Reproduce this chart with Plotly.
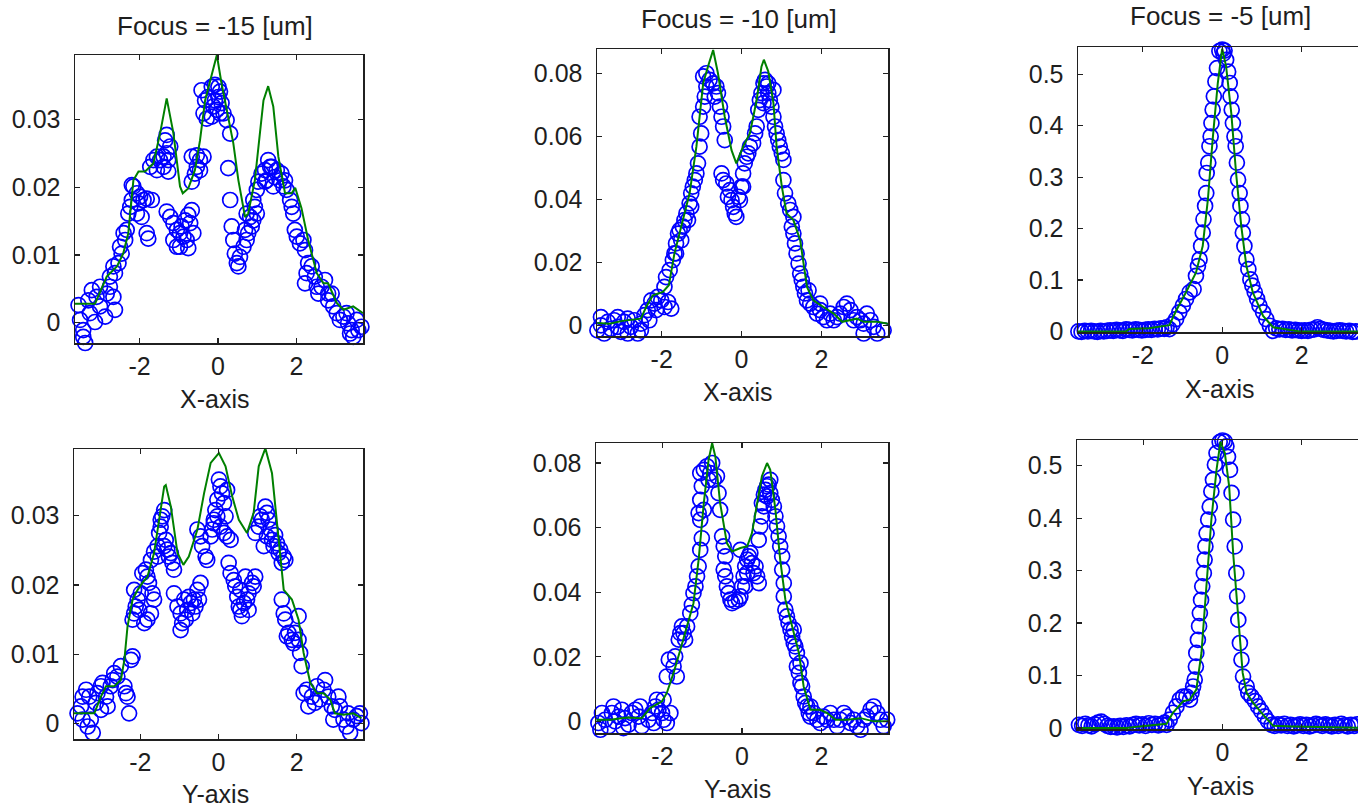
import plotly.graph_objects as go

# ---------------- data ----------------
titles = ["Focus = -15 [um]", "Focus = -10 [um]", "Focus = -5 [um]"]
axis_names = ["X-axis", "Y-axis"]

# Panel 1 : focus -15, X profile
p1_line = [(-3.65,0.0028),(-3.14,0.0028),(-2.84,0.0068),(-2.58,0.0083),(-2.42,0.0102),(-2.29,0.0132),
           (-2.16,0.0210),(-2.03,0.0223),(-1.86,0.0223),(-1.65,0.0235),(-1.48,0.0279),(-1.31,0.0331),
           (-1.14,0.0280),(-0.97,0.0201),(-0.90,0.0191),(-0.76,0.0198),(-0.59,0.0225),(-0.46,0.0269),
           (-0.33,0.0328),(-0.20,0.0358),(-0.03,0.0395),(0.09,0.0353),(0.22,0.0314),(0.39,0.0265),
           (0.52,0.0210),(0.69,0.0156),(0.77,0.0161),(0.94,0.0210),(1.07,0.0280),(1.16,0.0328),
           (1.28,0.0349),(1.41,0.0319),(1.54,0.0245),(1.71,0.0191),(1.88,0.0191),(1.97,0.0199),
           (2.13,0.0169),(2.30,0.0122),(2.52,0.0073),(2.69,0.0058),(2.81,0.0058),(3.03,0.0029),
           (3.20,0.0019),(3.45,0.0024),(3.70,0.0014)]
p1_pts = [(-3.69,0.0014),(-3.52,0.0004),(-3.44,-0.0011),(-3.39,-0.0030),(-3.56,0.0026),(-3.31,0.0033),
          (-3.22,0.0048),(-3.10,0.0038),(-3.01,0.0024),(-2.88,0.0009),(-2.84,0.0043),(-2.76,0.0053),
          (-2.67,0.0038),(-2.63,0.0019),(-3.01,0.0053),(-3.27,0.0014),(-3.14,0.0001),(-3.44,-0.0021),
          (-2.76,0.0068),(-2.63,0.0073),(-2.67,0.0083),(-2.54,0.0088),(-2.46,0.0102),(-2.50,0.0112),
          (-2.37,0.0122),(-2.41,0.0132),(-2.33,0.0137),(-2.29,0.0161),(-2.24,0.0171),(-2.20,0.0181),
          (-2.16,0.0201),(-2.20,0.0203),(-2.07,0.0191),(-1.99,0.0186),(-2.03,0.0176),(-1.90,0.0181),
          (-1.82,0.0183),(-2.07,0.0161),(-1.95,0.0156),(-1.82,0.0132),(-1.78,0.0124),(-1.69,0.0181),
          (-1.73,0.0230),(-1.65,0.0240),(-1.56,0.0245),(-1.48,0.0240),(-1.39,0.0245),(-1.31,0.0250),
          (-1.27,0.0240),(-1.22,0.0260),(-1.35,0.0269),(-1.31,0.0277),(-1.39,0.0230),(-1.56,0.0225),
          (-1.27,0.0223),
          (-1.31,0.0164),(-1.22,0.0156),(-1.14,0.0147),(-1.05,0.0137),(-0.97,0.0132),(-0.88,0.0127),
          (-1.05,0.0112),(-0.97,0.0112),(-0.80,0.0122),(-0.93,0.0142),(-0.84,0.0151),(-0.76,0.0159),
          (-0.67,0.0166),(-0.71,0.0147),(-0.63,0.0132),(-0.76,0.0110),(-1.14,0.0122),
          (-0.67,0.0245),(-0.54,0.0247),(-0.46,0.0240),(-0.37,0.0245),(-0.59,0.0220),(-0.67,0.0208),
          (-0.46,0.0225),(-0.54,0.0230),
          (-0.42,0.0343),(-0.33,0.0328),(-0.25,0.0333),(-0.16,0.0348),(-0.08,0.0351),(0.01,0.0348),
          (0.05,0.0341),(-0.12,0.0319),(-0.29,0.0301),(-0.16,0.0304),(-0.03,0.0314),(0.09,0.0324),
          (0.14,0.0309),(0.22,0.0299),(0.31,0.0279),(0.01,0.0333),(-0.08,0.0328),(-0.37,0.0309),
          (0.05,0.0309),
          (0.26,0.0228),(0.31,0.0181),(0.35,0.0142),(0.39,0.0122),(0.43,0.0102),(0.48,0.0088),
          (0.52,0.0083),(0.56,0.0097),(0.65,0.0112),(0.73,0.0122),(0.69,0.0137),(0.77,0.0132),
          (0.86,0.0142),(0.90,0.0151),(0.99,0.0161),(0.94,0.0171),(0.73,0.0161),(0.82,0.0156),
          (0.90,0.0181),(0.99,0.0196),(1.03,0.0208),(1.11,0.0220),(1.20,0.0225),(1.28,0.0240),
          (1.37,0.0230),(1.45,0.0215),(1.50,0.0225),(1.58,0.0210),(1.67,0.0201),(1.41,0.0201),
          (1.24,0.0210),(1.33,0.0230),(1.20,0.0208),(1.62,0.0220),(1.71,0.0210),(1.75,0.0196),
          (1.84,0.0181),(1.88,0.0171),
          (1.92,0.0161),(1.96,0.0137),(2.01,0.0127),(2.09,0.0117),(2.18,0.0122),(2.22,0.0107),
          (2.30,0.0088),(2.26,0.0073),(2.22,0.0058),(2.39,0.0083),(2.47,0.0068),(2.52,0.0053),
          (2.56,0.0043),(2.64,0.0053),(2.73,0.0063),(2.81,0.0043),(2.90,0.0043),(2.81,0.0033),
          (2.94,0.0024),(3.03,0.0014),(3.11,0.0004),(3.20,0.0009),(3.32,-0.0001),(3.41,-0.0011),
          (3.45,-0.0021),(3.58,-0.0011),(3.66,-0.0006),(3.75,-0.0001),(3.54,0.0004),(3.28,0.0014),
          (3.37,-0.0016)]

# Panel 4 : focus -15, Y profile
p4_line = [(-3.71,0.0015),(-3.18,0.0015),(-3.01,0.0039),(-2.88,0.0054),(-2.67,0.0054),(-2.50,0.0063),
           (-2.41,0.0092),(-2.33,0.0140),(-2.20,0.0179),(-2.07,0.0193),(-1.95,0.0203),(-1.82,0.0212),
           (-1.65,0.0246),(-1.52,0.0294),(-1.39,0.0342),(-1.35,0.0344),(-1.22,0.0313),(-1.05,0.0246),
           (-0.90,0.0229),(-0.76,0.0241),(-0.54,0.0280),(-0.37,0.0332),(-0.20,0.0376),(0.01,0.0390),
           (0.18,0.0371),(0.35,0.0328),(0.52,0.0294),(0.73,0.0275),(0.90,0.0304),(1.03,0.0371),
           (1.20,0.0397),(1.37,0.0361),(1.50,0.0284),(1.67,0.0193),(1.88,0.0179),(2.05,0.0150),
           (2.18,0.0102),(2.35,0.0059),(2.52,0.0044),(2.69,0.0044),(2.86,0.0035),(2.98,0.0015),
           (3.20,0.0013),(3.45,0.0015),(3.66,0.0008)]
p4_pts = [(-3.73,0.0001),(-3.61,0.0015),(-3.52,0.0025),(-3.48,0.0039),(-3.39,0.0049),(-3.31,0.0039),
          (-3.27,0.0006),(-3.22,-0.0013),(-3.35,-0.0004),(-3.14,0.0030),(-3.10,0.0044),(-3.01,0.0054),
          (-2.97,0.0059),(-2.88,0.0039),(-2.84,0.0025),(-2.76,0.0054),(-2.71,0.0063),(-2.67,0.0073),
          (-2.59,0.0068),(-2.50,0.0083),(-2.41,0.0054),(-2.33,0.0039),(-2.29,0.0015),(-2.37,0.0044),
          (-2.24,0.0092),(-2.20,0.0097),(-3.01,0.0020),(-3.48,0.0006),
          (-2.20,0.0150),(-2.16,0.0159),(-2.12,0.0169),(-2.07,0.0179),(-1.99,0.0188),(-1.95,0.0217),
          (-1.86,0.0222),(-1.82,0.0212),(-1.78,0.0203),(-1.69,0.0188),(-1.65,0.0179),(-1.73,0.0159),
          (-1.82,0.0150),(-1.90,0.0145),(-2.16,0.0193),(-2.03,0.0164),
          (-1.73,0.0236),(-1.65,0.0248),(-1.56,0.0256),(-1.52,0.0275),(-1.48,0.0284),(-1.44,0.0299),
          (-1.39,0.0308),(-1.48,0.0294),(-1.35,0.0265),(-1.31,0.0251),(-1.27,0.0241),(-1.18,0.0232),
          (-1.14,0.0222),(-1.22,0.0246),(-1.56,0.0241),(-1.39,0.0256),
          (-1.14,0.0188),(-1.05,0.0169),(-0.97,0.0159),(-0.93,0.0145),(-0.84,0.0150),(-0.80,0.0164),
          (-0.71,0.0174),(-0.63,0.0179),(-0.54,0.0193),(-0.46,0.0203),(-0.59,0.0169),(-0.67,0.0159),
          (-0.88,0.0179),(-0.76,0.0183),(-0.97,0.0135),(-0.50,0.0179),
          (-0.54,0.0280),(-0.46,0.0270),(-0.42,0.0256),(-0.33,0.0241),(-0.29,0.0236),(-0.20,0.0270),
          (-0.12,0.0289),(-0.08,0.0308),(-0.03,0.0323),(0.01,0.0352),(0.05,0.0342),(0.09,0.0332),
          (0.14,0.0318),(0.22,0.0337),(-0.03,0.0299),(0.05,0.0284),(0.14,0.0275),(0.22,0.0270),
          (0.31,0.0265),(0.18,0.0299),(-0.16,0.0280),(-0.12,0.0294),
          (0.26,0.0232),(0.31,0.0217),(0.39,0.0207),(0.43,0.0198),(0.48,0.0183),(0.52,0.0169),
          (0.56,0.0164),(0.65,0.0174),(0.73,0.0179),(0.77,0.0188),(0.86,0.0203),(0.94,0.0212),
          (0.90,0.0198),(0.69,0.0212),(0.56,0.0193),(0.77,0.0164),(0.60,0.0155),
          (0.94,0.0275),(1.03,0.0284),(1.11,0.0294),(1.20,0.0313),(1.24,0.0304),(1.33,0.0280),
          (1.37,0.0265),(1.41,0.0256),(1.50,0.0260),(1.58,0.0251),(1.67,0.0241),(1.71,0.0236),
          (1.62,0.0232),(1.54,0.0246),(1.24,0.0270),(1.16,0.0256),(1.07,0.0299),(1.45,0.0272),
          (1.28,0.0294),
          (1.62,0.0179),(1.71,0.0150),(1.79,0.0131),(1.88,0.0121),(1.96,0.0131),(2.05,0.0121),
          (1.92,0.0116),(1.75,0.0126),(2.09,0.0102),(2.13,0.0083),(2.05,0.0155),(1.67,0.0159),
          (2.18,0.0044),(2.26,0.0049),(2.39,0.0039),(2.47,0.0030),(2.60,0.0035),(2.69,0.0049),
          (2.73,0.0063),(2.81,0.0039),(2.90,0.0025),(2.98,0.0020),(3.07,0.0039),(3.11,0.0025),
          (3.20,0.0006),(3.28,-0.0004),(3.37,-0.0013),(3.45,0.0006),(3.54,0.0011),(3.62,0.0015),
          (3.71,0.0025),(3.66,0.0001),(3.32,0.0015),(2.52,0.0054),(2.30,0.0025),(2.94,0.0006)]

# Panel 2 : focus -10, X profile
p2_line = [(-3.61,0.0007),(-3.31,0.0005),(-2.98,0.0014),(-2.64,0.0018),(-2.52,0.0021),(-2.39,0.0058),
           (-2.22,0.0095),(-1.97,0.0106),(-1.82,0.0127),(-1.68,0.0228),(-1.51,0.0313),(-1.30,0.0419),
           (-1.13,0.0567),(-0.96,0.0768),(-0.84,0.0821),(-0.71,0.0874),(-0.59,0.0800),(-0.42,0.0662),
           (-0.25,0.0556),(-0.13,0.0514),(0.04,0.0567),(0.21,0.0609),(0.38,0.0715),(0.50,0.0821),
           (0.56,0.0843),(0.67,0.0806),(0.80,0.0705),(0.88,0.0567),(1.01,0.0440),(1.13,0.0355),
           (1.30,0.0334),(1.47,0.0270),(1.64,0.0122),(1.80,0.0079),(2.05,0.0058),(2.31,0.0037),
           (2.52,0.0011),(2.73,0.0016),(2.89,0.0021),(3.06,0.0011),(3.40,0.0011),(3.67,0.0005)]
p2_pts = [(-3.69,0.0016),(-3.61,-0.0016),(-3.52,0.0000),(-3.44,-0.0026),(-3.35,0.0011),(-3.27,-0.0011),
          (-3.19,0.0016),(-3.10,-0.0005),(-3.02,-0.0021),(-2.94,0.0011),(-2.85,0.0021),(-2.77,-0.0005),
          (-2.68,0.0016),(-2.60,-0.0026),(-2.52,0.0005),(-2.43,0.0032),(-2.35,0.0048),(-2.26,0.0079),
          (-2.18,0.0069),(-2.10,0.0090),(-2.01,0.0079),(-1.93,0.0058),(-1.84,0.0074),(-1.76,0.0053),
          (-3.52,0.0026),(-3.10,0.0026),(-2.85,-0.0026),(-2.52,-0.0016),(-2.14,0.0048),(-2.31,0.0016),
          (-1.93,0.0122),(-1.89,0.0153),(-1.80,0.0175),(-1.72,0.0207),(-1.68,0.0228),(-1.64,0.0260),
          (-1.59,0.0291),(-1.55,0.0302),(-1.47,0.0313),(-1.43,0.0334),(-1.38,0.0355),(-1.30,0.0387),
          (-1.26,0.0419),(-1.22,0.0440),(-1.17,0.0461),(-1.13,0.0482),(-1.09,0.0514),(-1.05,0.0567),
          (-1.01,0.0609),(-1.05,0.0662),(-0.96,0.0694),(-0.92,0.0726),(-0.88,0.0758),(-0.96,0.0790),
          (-0.88,0.0800),(-0.80,0.0779),(-0.71,0.0768),(-0.63,0.0758),(-0.59,0.0737),(-0.67,0.0726),
          (-0.54,0.0694),(-0.50,0.0662),(-0.46,0.0631),(-0.42,0.0588),(-1.64,0.0228),(-1.51,0.0270),
          (-1.34,0.0334),(-1.26,0.0376),
          (-0.50,0.0482),(-0.46,0.0461),(-0.38,0.0450),(-0.29,0.0429),(-0.25,0.0397),(-0.21,0.0376),
          (-0.17,0.0355),(-0.13,0.0344),(-0.34,0.0408),(-0.04,0.0397),(0.00,0.0440),(0.04,0.0482),
          (0.08,0.0514),(0.13,0.0535),(0.17,0.0546),(0.21,0.0567),(0.29,0.0578),(0.34,0.0609),
          (0.38,0.0631),(0.04,0.0440),(-0.08,0.0408),
          (0.42,0.0684),(0.46,0.0715),(0.50,0.0737),(0.55,0.0768),(0.59,0.0779),(0.63,0.0758),
          (0.67,0.0737),(0.71,0.0715),(0.75,0.0694),(0.80,0.0662),(0.84,0.0631),(0.88,0.0609),
          (0.92,0.0588),(0.96,0.0567),(1.01,0.0546),(1.05,0.0525),(0.55,0.0705),(0.67,0.0768),
          (0.80,0.0747),
          (1.05,0.0461),(1.09,0.0419),(1.17,0.0387),(1.22,0.0366),(1.26,0.0313),(1.30,0.0291),
          (1.34,0.0260),(1.38,0.0228),(1.43,0.0196),(1.47,0.0164),(1.51,0.0143),(1.55,0.0122),
          (1.59,0.0101),(1.64,0.0079),(1.72,0.0069),(1.80,0.0058),(1.89,0.0037),(1.97,0.0048),
          (2.05,0.0026),(2.14,0.0016),(2.22,0.0037),(2.31,0.0016),(2.39,0.0026),(2.47,0.0037),
          (2.56,0.0058),(2.64,0.0069),(2.73,0.0048),(2.81,0.0016),(2.89,0.0026),(2.98,0.0016),
          (3.06,0.0005),(3.14,0.0037),(3.23,0.0016),(3.31,-0.0005),(3.40,-0.0026),(3.48,-0.0037),
          (3.56,-0.0016),(3.73,-0.0016),(1.30,0.0344),(1.68,0.0111),(1.97,0.0069),(3.06,-0.0026)]

# Panel 5 : focus -10, Y profile
p5_line = [(-3.66,0.0005),(-3.31,0.0005),(-2.89,0.0012),(-2.52,0.0010),(-2.31,0.0041),(-2.01,0.0062),
           (-1.89,0.0088),(-1.72,0.0150),(-1.55,0.0222),(-1.38,0.0294),(-1.22,0.0366),(-1.09,0.0501),
           (-0.96,0.0676),(-0.84,0.0810),(-0.75,0.0862),(-0.67,0.0820),(-0.55,0.0676),(-0.38,0.0552),
           (-0.25,0.0526),(-0.04,0.0537),(0.13,0.0542),(0.25,0.0583),(0.38,0.0676),(0.50,0.0759),
           (0.63,0.0800),(0.71,0.0779),(0.84,0.0655),(0.96,0.0501),(1.09,0.0377),(1.26,0.0294),
           (1.43,0.0212),(1.55,0.0108),(1.72,0.0036),(1.97,0.0036),(2.14,0.0026),(2.35,0.0005),
           (2.64,0.0005),(2.98,0.0010),(3.31,0.0000),(3.67,0.0000)]
p5_pts = [(-3.69,0.0015),(-3.61,-0.0005),(-3.52,0.0026),(-3.44,0.0005),(-3.35,-0.0015),(-3.27,0.0026),
          (-3.19,0.0000),(-3.10,0.0015),(-3.02,0.0036),(-2.94,0.0010),(-2.85,-0.0010),(-2.77,0.0026),
          (-2.68,0.0036),(-2.60,0.0015),(-2.52,-0.0015),(-2.43,-0.0041),(-2.35,0.0005),(-2.26,0.0026),
          (-2.18,0.0046),(-2.10,0.0036),(-2.01,0.0026),(-1.97,0.0005),(-1.89,-0.0005),(-1.80,0.0026),
          (-3.56,-0.0026),(-2.98,-0.0021),(-2.56,0.0046),(-2.14,0.0067),(-2.22,-0.0005),(-3.23,0.0046),
          (-1.97,0.0067),(-1.89,0.0139),(-1.84,0.0191),(-1.72,0.0170),(-1.64,0.0139),(-1.68,0.0201),
          (-1.59,0.0253),(-1.55,0.0273),(-1.47,0.0273),(-1.51,0.0294),(-1.43,0.0253),(-1.38,0.0294),
          (-1.30,0.0335),(-1.26,0.0361),(-1.22,0.0397),(-1.17,0.0418),(-1.13,0.0449),(-1.09,0.0480),
          (-1.05,0.0531),(-1.01,0.0567),(-1.05,0.0624),(-1.09,0.0645),(-1.05,0.0686),(-1.01,0.0728),
          (-1.05,0.0769),(-0.96,0.0779),(-0.88,0.0790),(-0.80,0.0769),(-0.71,0.0748),(-0.63,0.0759),
          (-0.75,0.0800),(-0.59,0.0707),(-0.55,0.0655),(-0.50,0.0573),(-0.46,0.0542),(-0.42,0.0511),
          (-0.84,0.0748),(-0.96,0.0655),
          (-0.46,0.0470),(-0.42,0.0449),(-0.38,0.0418),(-0.34,0.0397),(-0.29,0.0377),(-0.25,0.0366),
          (-0.17,0.0372),(-0.08,0.0377),(-0.04,0.0387),(0.00,0.0418),(0.04,0.0449),(0.08,0.0480),
          (0.13,0.0501),(0.17,0.0511),(0.21,0.0521),(0.25,0.0490),(0.29,0.0459),(0.38,0.0449),
          (0.42,0.0428),(0.34,0.0480),(0.13,0.0459),(0.08,0.0418),(-0.04,0.0531),
          (0.42,0.0562),(0.46,0.0604),(0.50,0.0635),(0.50,0.0676),(0.55,0.0702),(0.59,0.0717),
          (0.63,0.0728),(0.67,0.0733),(0.71,0.0707),(0.75,0.0686),(0.80,0.0666),(0.84,0.0635),
          (0.88,0.0604),(0.92,0.0573),(0.96,0.0542),(1.01,0.0511),(0.55,0.0666),(0.71,0.0748),
          (0.63,0.0697),
          (1.01,0.0470),(1.05,0.0428),(1.05,0.0387),(1.09,0.0346),(1.13,0.0325),(1.17,0.0304),
          (1.22,0.0284),(1.26,0.0263),(1.30,0.0242),(1.34,0.0232),(1.38,0.0212),(1.38,0.0170),
          (1.43,0.0150),(1.47,0.0119),(1.51,0.0108),(1.55,0.0077),(1.59,0.0057),(1.64,0.0046),
          (1.68,0.0026),(1.72,0.0015),(1.80,0.0026),(1.89,0.0005),(1.97,-0.0005),(2.05,0.0015),
          (2.14,0.0005),(2.22,0.0026),(2.31,0.0005),(2.39,-0.0015),(2.47,0.0005),(2.56,0.0026),
          (2.64,0.0015),(2.73,-0.0005),(2.81,0.0005),(2.89,-0.0015),(2.98,-0.0026),(3.06,0.0005),
          (3.14,0.0015),(3.23,0.0036),(3.31,0.0046),(3.40,0.0026),(3.48,0.0005),(3.56,-0.0015),
          (3.65,0.0005),(3.73,0.0015),(1.47,0.0181),(1.30,0.0284),(1.72,0.0046)]

# Panel 3 : focus -5, X profile
p3_line = [(-3.63,0.000),(-2.42,0.000),(-2.34,0.0045),(-1.84,0.006),(-1.33,0.012),(-1.16,0.040),
           (-0.91,0.076),(-0.66,0.114),(-0.49,0.166),(-0.36,0.256),(-0.24,0.373),(-0.11,0.483),
           (0.00,0.550),(0.10,0.515),(0.23,0.424),(0.35,0.308),(0.48,0.205),(0.61,0.127),
           (0.77,0.076),(1.03,0.030),(1.28,0.008),(1.53,0.0045),(1.95,0.000),(2.79,0.000),(3.70,0.000)]
p3_pts = [(-3.70,0.001),(-3.62,0.000),(-3.54,-0.001),(-3.46,0.001),(-3.38,0.000),(-3.30,0.001),
          (-3.22,0.000),(-3.14,-0.001),(-3.06,0.001),(-2.98,0.000),(-2.90,0.001),(-2.82,0.002),
          (-2.74,0.001),(-2.66,0.003),(-2.58,0.002),(-2.50,0.001),(-2.42,0.004),(-2.34,0.003),
          (-2.26,0.002),(-2.18,0.004),(-2.10,0.003),(-2.02,0.002),(-1.94,0.003),(-1.86,0.004),
          (-1.78,0.003),(-1.70,0.005),(-1.62,0.004),(-1.54,0.006),(-1.46,0.005),(-1.40,0.008),
          (-1.33,0.0045),(-1.25,0.014),(-1.16,0.024),(-1.08,0.037),(-0.99,0.050),(-0.91,0.063),
          (-0.82,0.076),(-0.72,0.082),(-0.66,0.108),(-0.61,0.127),(-0.57,0.140),(-0.53,0.166),
          (-0.49,0.192),(-0.47,0.218),(-0.43,0.244),(-0.40,0.269),(-0.39,0.308),(-0.35,0.328),
          (-0.32,0.360),(-0.29,0.379),(-0.27,0.405),(-0.24,0.431),(-0.21,0.457),(-0.17,0.486),
          (-0.13,0.512),(-0.07,0.545),(0.00,0.548),(0.06,0.546),
          (0.03,0.540),(0.10,0.528),(0.15,0.505),(0.19,0.483),(0.21,0.457),(0.24,0.431),
          (0.27,0.405),(0.31,0.379),(0.34,0.360),(0.37,0.328),(0.40,0.295),(0.44,0.269),
          (0.46,0.244),(0.50,0.218),(0.52,0.192),(0.56,0.166),(0.61,0.140),(0.66,0.121),
          (0.71,0.101),(0.76,0.089),(0.82,0.076),(0.88,0.063),(0.94,0.050),(1.03,0.037),
          (1.11,0.024),(1.20,0.011),(1.28,0.001),
          (1.36,0.006),(1.44,0.004),(1.52,0.005),(1.60,0.003),(1.68,0.004),(1.76,0.002),
          (1.84,0.003),(1.92,0.002),(2.00,0.001),(2.08,0.002),(2.16,0.001),(2.24,0.003),
          (2.32,0.004),(2.40,0.008),(2.48,0.005),(2.56,0.003),(2.64,0.002),(2.72,0.001),
          (2.80,0.000),(2.88,0.001),(2.96,0.002),(3.04,0.001),(3.12,0.000),(3.20,0.001),
          (3.28,-0.001),(3.36,0.000),(3.44,0.001)]

# Panel 6 : focus -5, Y profile
p6_line = [(-3.67,0.000),(-2.42,0.000),(-2.09,0.003),(-1.41,0.008),(-1.25,0.029),(-0.99,0.051),
           (-0.82,0.054),(-0.66,0.073),(-0.53,0.143),(-0.40,0.270),(-0.28,0.397),(-0.15,0.492),
           (-0.05,0.546),(0.06,0.524),(0.17,0.460),(0.27,0.333),(0.40,0.206),(0.51,0.105),
           (0.61,0.067),(0.77,0.048),(1.03,0.025),(1.28,0.004),(1.78,0.003),(3.70,0.000)]
p6_pts = [(-3.70,0.002),(-3.62,0.006),(-3.54,0.004),(-3.46,0.008),(-3.38,0.005),(-3.30,0.003),
          (-3.22,0.007),(-3.14,0.010),(-3.06,0.012),(-2.98,0.008),(-2.90,0.004),(-2.82,0.002),
          (-2.74,0.003),(-2.66,0.001),(-2.58,0.004),(-2.50,0.002),(-2.42,0.005),(-2.34,0.003),
          (-2.26,0.006),(-2.18,0.008),(-2.10,0.005),(-2.02,0.007),(-1.94,0.004),(-1.86,0.009),
          (-1.78,0.006),(-1.70,0.008),(-1.62,0.005),(-1.54,0.007),(-1.46,0.010),
          (-1.41,0.006),(-1.33,0.016),(-1.25,0.029),(-1.16,0.041),(-1.08,0.054),(-0.99,0.060),
          (-0.91,0.060),(-0.82,0.054),(-0.78,0.067),(-0.74,0.079),(-0.70,0.092),(-0.67,0.117),
          (-0.66,0.143),(-0.62,0.168),(-0.59,0.194),(-0.57,0.219),(-0.54,0.244),(-0.51,0.270),
          (-0.47,0.295),(-0.45,0.321),(-0.43,0.346),(-0.40,0.371),(-0.36,0.397),(-0.32,0.422),
          (-0.28,0.451),(-0.24,0.473),(-0.19,0.502),(-0.15,0.524),(-0.07,0.545),(0.00,0.548),
          (0.06,0.546),
          (0.10,0.537),(0.14,0.517),(0.19,0.492),(0.23,0.448),(0.27,0.397),(0.31,0.346),
          (0.35,0.295),(0.37,0.251),(0.40,0.206),(0.44,0.162),(0.48,0.130),(0.52,0.098),
          (0.61,0.079),(0.65,0.067),(0.73,0.060),(0.82,0.051),(0.90,0.041),(0.98,0.032),
          (1.07,0.022),(1.15,0.013),(1.24,0.006),
          (1.32,0.004),(1.40,0.007),(1.48,0.005),(1.56,0.008),(1.64,0.004),(1.72,0.006),
          (1.80,0.003),(1.88,0.005),(1.96,0.007),(2.04,0.004),(2.12,0.006),(2.20,0.003),
          (2.28,0.005),(2.36,0.008),(2.44,0.006),(2.52,0.004),(2.60,0.007),(2.68,0.005),
          (2.76,0.003),(2.84,0.006),(2.92,0.004),(3.00,0.008),(3.08,0.005),(3.16,0.003),
          (3.24,0.006),(3.32,0.004),(3.40,0.007)]

# tick values / labels
xticks = [-2, 0, 2]
yticks_15 = [0, 0.01, 0.02, 0.03]
yticks_10 = [0, 0.02, 0.04, 0.06, 0.08]
yticks_5 = [0, 0.1, 0.2, 0.3, 0.4, 0.5]
ylabels_15 = ["0", "0.01", "0.02", "0.03"]
ylabels_10 = ["0", "0.02", "0.04", "0.06", "0.08"]
ylabels_5 = ["0", "0.1", "0.2", "0.3", "0.4", "0.5"]

# ---------------- layout geometry ----------------
W, H = 1358, 809
FONT = "Liberation Sans, Arial, Helvetica, sans-serif"
TXT = "#1e1e1e"
TICK_SIZE = 25
TITLE_SIZE = 26

panels = [
    # (line, points, xdomain px, ydomain px (top,bottom), xrange, yrange, yticks, ylabels, mirror_y)
    (p1_line, p1_pts, (75, 363), (55, 343), (-3.65, 3.70), (-0.0030, 0.0395), yticks_15, ylabels_15, True),
    (p2_line, p2_pts, (597, 888), (49, 336), (-3.62, 3.67), (-0.0034, 0.0877), yticks_10, ylabels_10, True),
    (p3_line, p3_pts, (1078, 1358), (47, 332), (-3.63, 3.42), (-0.0012, 0.553), yticks_5, ylabels_5, False),
    (p4_line, p4_pts, (74, 363), (449, 739), (-3.70, 3.70), (-0.0022, 0.0396), yticks_15, ylabels_15, True),
    (p5_line, p5_pts, (596, 888), (443, 733), (-3.67, 3.67), (-0.0036, 0.0862), yticks_10, ylabels_10, True),
    (p6_line, p6_pts, (1077, 1358), (440, 729), (-3.67, 3.42), (-0.0020, 0.549), yticks_5, ylabels_5, False),
]

fig = go.Figure()
layout = dict(
    template="none",
    width=W, height=H,
    margin=dict(l=0, r=0, t=0, b=0, pad=0, autoexpand=False),
    paper_bgcolor="white", plot_bgcolor="white",
    showlegend=False,
    font=dict(family=FONT, size=TICK_SIZE, color=TXT),
)

for i, (line, pts, xd, yd, xr, yr, yt, yl, mirror_y) in enumerate(panels, start=1):
    xs = "x" if i == 1 else f"x{i}"
    ys = "y" if i == 1 else f"y{i}"
    fig.add_trace(go.Scatter(
        x=[p[0] for p in pts], y=[p[1] for p in pts], xaxis=xs, yaxis=ys,
        mode="markers", cliponaxis=False,
        marker=dict(symbol="circle-open", size=15, color="#0000ff",
                    line=dict(width=1.7, color="#0000ff")),
        hoverinfo="skip"))
    fig.add_trace(go.Scatter(
        x=[p[0] for p in line], y=[p[1] for p in line], xaxis=xs, yaxis=ys,
        mode="lines", line=dict(color="#008000", width=2),
        hoverinfo="skip"))
    xkey = "xaxis" if i == 1 else f"xaxis{i}"
    ykey = "yaxis" if i == 1 else f"yaxis{i}"
    layout[xkey] = dict(
        domain=[xd[0] / W, xd[1] / W], anchor=ys, range=list(xr), automargin=False,
        tickmode="array", tickvals=xticks, ticktext=[str(v) for v in xticks],
        ticks="inside", ticklen=5, tickwidth=1.2, tickcolor="#202020",
        showline=True, linecolor="#202020", linewidth=1.5, mirror="ticks",
        showgrid=False, zeroline=False, ticklabelstandoff=0,
        tickfont=dict(family=FONT, size=TICK_SIZE, color=TXT))
    layout[ykey] = dict(
        domain=[(H - yd[1]) / H, (H - yd[0]) / H], anchor=xs, range=list(yr), automargin=False,
        tickmode="array", tickvals=yt, ticktext=yl,
        ticks="inside", ticklen=5, tickwidth=1.2, tickcolor="#202020",
        showline=True, linecolor="#202020", linewidth=1.5,
        mirror="ticks" if mirror_y else False,
        showgrid=False, zeroline=False, ticklabelstandoff=8,
        tickfont=dict(family=FONT, size=TICK_SIZE, color=TXT))

annotations = []
title_pos = [(215, 26), (739, 19), (1220, 16)]
for t, (cx, cy) in zip(titles, title_pos):
    annotations.append(dict(text=t, x=cx / W, y=(H - cy) / H, xref="paper", yref="paper",
                            xanchor="center", yanchor="middle", showarrow=False,
                            font=dict(family=FONT, size=TITLE_SIZE, color=TXT)))
label_pos = [((214, 399), 0), ((738, 392), 0), ((1219, 389), 0),
             ((215, 794), 1), ((738, 789), 1), ((1220, 786), 1)]
for (cx, cy), k in label_pos:
    annotations.append(dict(text=axis_names[k], x=cx / W, y=(H - cy) / H, xref="paper", yref="paper",
                            xanchor="center", yanchor="middle", showarrow=False,
                            font=dict(family=FONT, size=TICK_SIZE, color=TXT)))
layout["annotations"] = annotations

fig.update_layout(**layout)
fig.write_html(
    "out.html",
    config={"displayModeBar": False, "staticPlot": True},
    post_script="document.body.style.margin='0px';document.body.style.padding='0px';"
                "document.body.style.overflow='hidden';",
)
